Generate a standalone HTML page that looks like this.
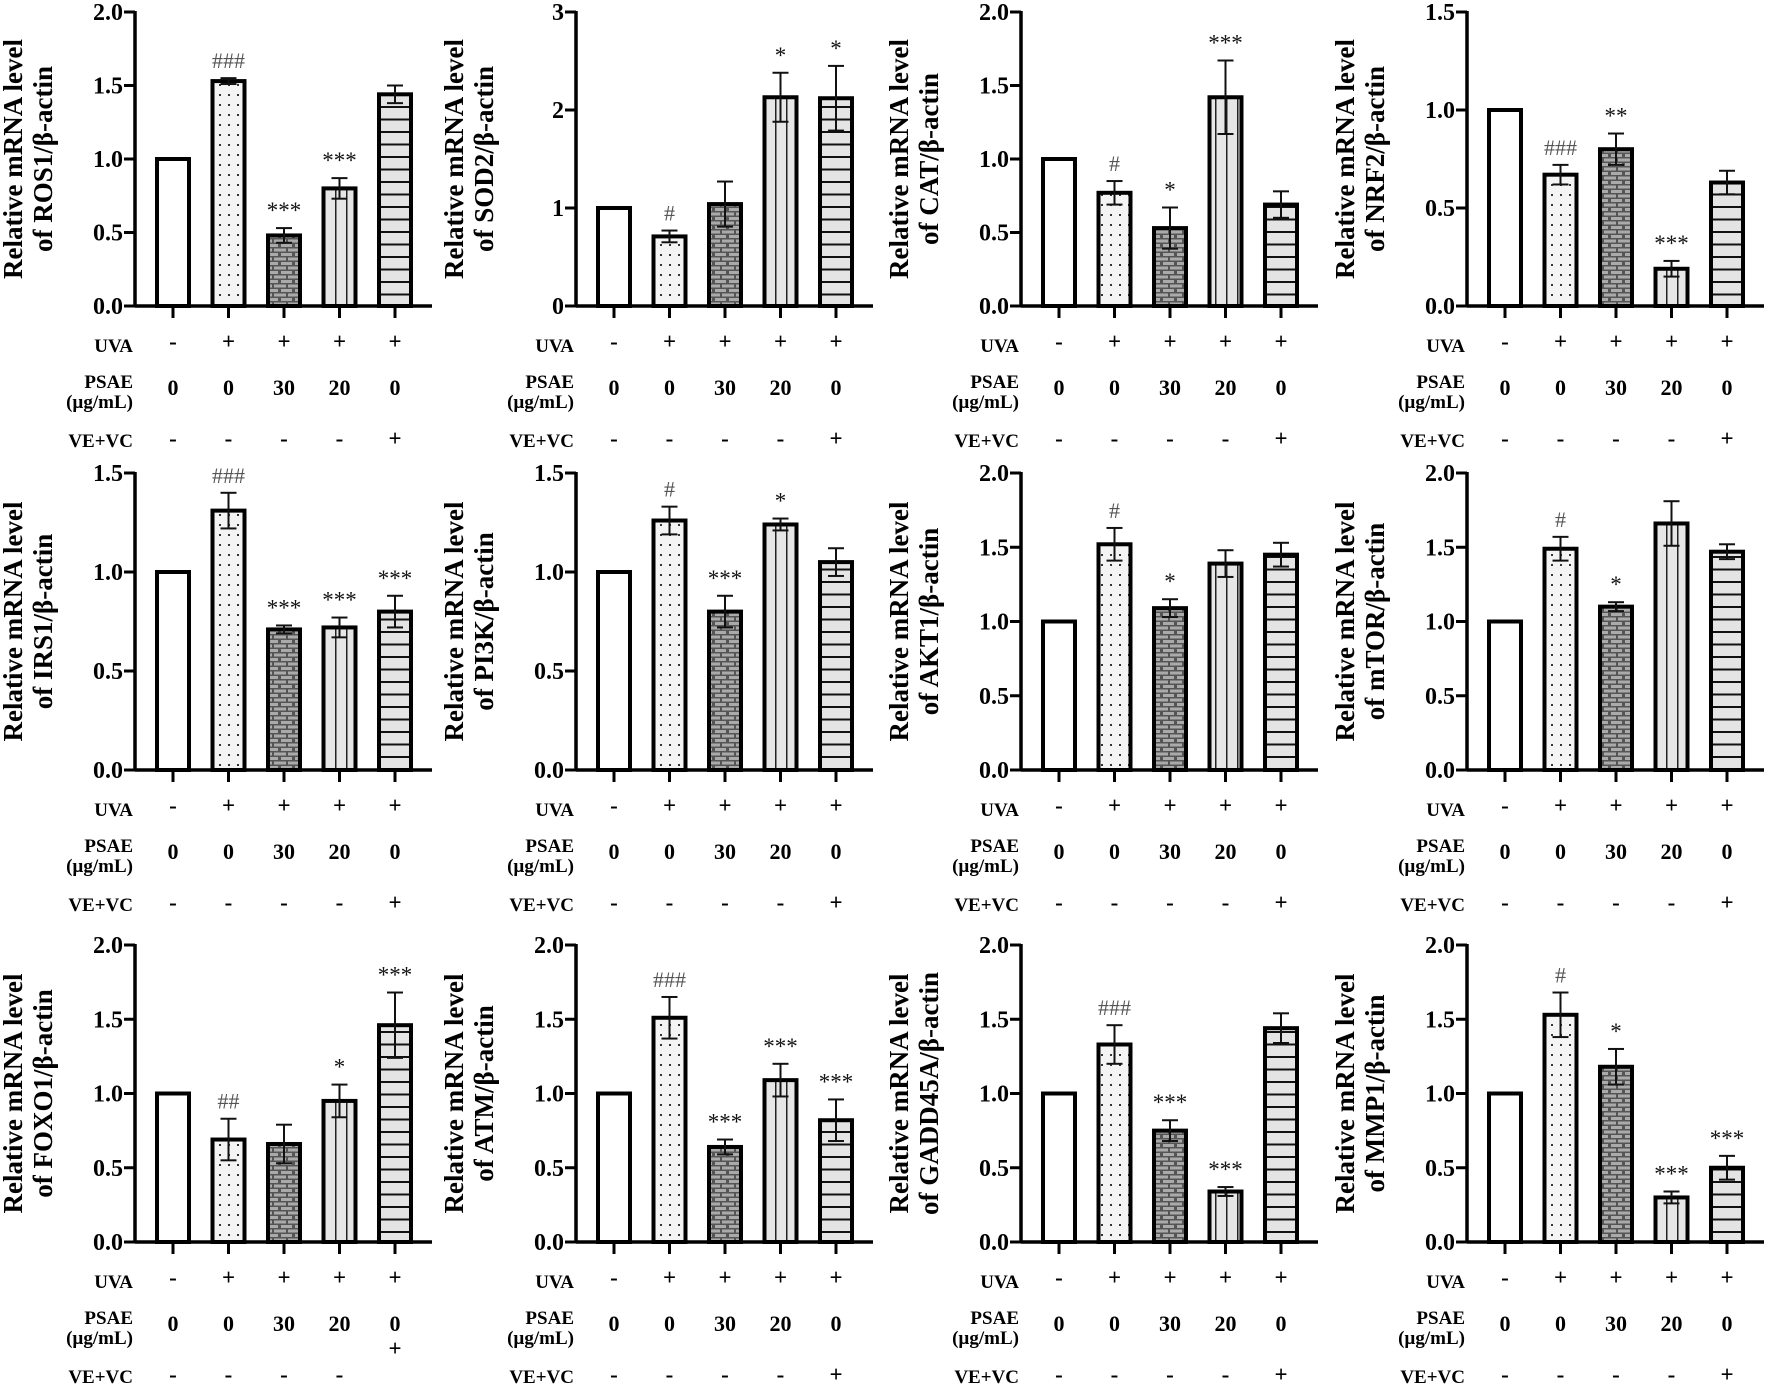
<!DOCTYPE html>
<html><head><meta charset="utf-8">
<style>
html,body{margin:0;padding:0;background:#fff;}
svg{display:block;}
svg text{font-family:"Liberation Serif","DejaVu Serif",serif;}
</style></head>
<body>
<svg id="fig" width="1772" height="1389" viewBox="0 0 1772 1389" xmlns="http://www.w3.org/2000/svg" font-family="Liberation Serif, DejaVu Serif, serif">
<defs>
<pattern id="pDots" width="9" height="10" patternUnits="userSpaceOnUse"><rect width="9" height="10" fill="#f4f4f4"/><rect x="3" y="4" width="2" height="2" fill="#333"/></pattern>
<pattern id="pBrick" width="14" height="9" patternUnits="userSpaceOnUse"><rect width="14" height="9" fill="#555"/><rect x="1" y="1" width="11" height="3" fill="#aaa"/><rect x="8" y="5.5" width="12" height="3" fill="#aaa"/><rect x="-6" y="5.5" width="12" height="3" fill="#aaa"/></pattern>
<pattern id="pVert" width="11" height="10" patternUnits="userSpaceOnUse"><rect width="11" height="10" fill="#e6e6e6"/><rect x="5" width="1.5" height="10" fill="#222"/></pattern>
<pattern id="pHoriz" width="10" height="12.5" patternUnits="userSpaceOnUse"><rect width="10" height="12.5" fill="#e4e4e4"/><rect y="6" width="10" height="2" fill="#111"/></pattern>
</defs>
</svg>
<script>
const genes = ["ROS1","SOD2","CAT","NRF2","IRS1","PI3K","AKT1","mTOR","FOXO1","ATM","GADD45A","MMP1"];
const yMax = [2,3,2,1.5,1.5,1.5,2,2,2,2,2,2];
const tickLabels = [
 ["0.0","0.5","1.0","1.5","2.0"],["0","1","2","3"],["0.0","0.5","1.0","1.5","2.0"],["0.0","0.5","1.0","1.5"],
 ["0.0","0.5","1.0","1.5"],["0.0","0.5","1.0","1.5"],["0.0","0.5","1.0","1.5","2.0"],["0.0","0.5","1.0","1.5","2.0"],
 ["0.0","0.5","1.0","1.5","2.0"],["0.0","0.5","1.0","1.5","2.0"],["0.0","0.5","1.0","1.5","2.0"],["0.0","0.5","1.0","1.5","2.0"]];
const means = [
 [1,1.53,0.48,0.80,1.44],[1,0.71,1.04,2.13,2.12],[1,0.77,0.53,1.42,0.69],[1,0.67,0.80,0.19,0.63],
 [1,1.31,0.71,0.72,0.80],[1,1.26,0.80,1.24,1.05],[1,1.52,1.09,1.39,1.45],[1,1.49,1.10,1.66,1.47],
 [1,0.69,0.66,0.95,1.46],[1,1.51,0.64,1.09,0.82],[1,1.33,0.75,0.34,1.44],[1,1.53,1.18,0.30,0.50]];
const errs = [
 [0,0.02,0.05,0.07,0.06],[0,0.06,0.23,0.25,0.33],[0,0.08,0.14,0.25,0.09],[0,0.05,0.08,0.04,0.06],
 [0,0.09,0.02,0.05,0.08],[0,0.07,0.08,0.03,0.07],[0,0.11,0.06,0.09,0.08],[0,0.08,0.03,0.15,0.05],
 [0,0.14,0.13,0.11,0.22],[0,0.14,0.05,0.11,0.14],[0,0.13,0.07,0.03,0.10],[0,0.15,0.12,0.04,0.08]];
const sigs = [
 ["","###","***","***",""],["","#","","*","*"],["","#","*","***",""],["","###","**","***",""],
 ["","###","***","***","***"],["","#","***","*",""],["","#","*","",""],["","#","*","",""],
 ["","##","","*","***"],["","###","***","***","***"],["","###","***","***",""],["","#","*","***","***"]];
const uvaRow = ["-","+","+","+","+"];
const psaeRow = ["0","0","30","20","0"];
const vevcRow = ["-","-","-","-","+"];

const NS="http://www.w3.org/2000/svg";
const svg=document.getElementById("fig");
const colX=[135,576,1021,1467];
const rowTop=[12,473,945], rowBase=[306,770,1242];
const fills=["#fff","url(#pDots)","url(#pBrick)","url(#pVert)","url(#pHoriz)"];
const FF="Liberation Serif, DejaVu Serif, serif";
function el(tag,attrs,parent,txt){const e=document.createElementNS(NS,tag);for(const k in attrs)e.setAttribute(k,attrs[k]);if(tag==="text")e.setAttribute("font-family",FF);if(txt!==undefined)e.textContent=txt;(parent||svg).appendChild(e);return e;}

genes.forEach((g,i)=>{
  const ax=colX[i%4], top=rowTop[Math.floor(i/4)], base=rowBase[Math.floor(i/4)];
  const grp=el("g",{});
  
  
  const y=v=>base-(v/yMax[i])*(base-top);
  const xc=k=>ax+38+k*55.5;
  const ya=el("line",{x1:ax,y1:top-1,x2:ax,y2:base+1.5,stroke:"#000","stroke-width":3.5},grp);
  
  
  const n=tickLabels[i].length;
  tickLabels[i].forEach((t,k)=>{
    const v=yMax[i]*k/(n-1);
    el("line",{x1:ax-11,y1:y(v),x2:ax,y2:y(v),stroke:"#000","stroke-width":3},grp);
    const tl=el("text",{x:ax-12,y:y(v)+8,"text-anchor":"end","font-size":24,"font-weight":"bold"},grp,t);
    
    
  });
  const xa=el("line",{x1:ax,y1:base,x2:ax+297,y2:base,stroke:"#000","stroke-width":3.5},grp);
  
  
  const mid=(top+base)/2;
  const t1=el("text",{x:0,y:0,"text-anchor":"middle","font-size":27,"font-weight":"bold",transform:`translate(${ax-113},${mid}) rotate(-90)`},grp,"Relative mRNA level");
  
  
  const t2=el("text",{x:0,y:0,"text-anchor":"middle","font-size":27,"font-weight":"bold",transform:`translate(${ax-83},${mid}) rotate(-90)`},grp,"of "+g+"/β-actin");
  
  
  means[i].forEach((m,k)=>{
    const cx=xc(k), w=32;
    const b=el("rect",{x:cx-w/2,y:y(m),width:w,height:base-y(m),fill:fills[k],stroke:"#000","stroke-width":4},grp);
    
    
    const e=errs[i][k];
    if(e>0){
      const hi=y(m+e), lo=y(m-e);
      el("line",{x1:cx,y1:hi,x2:cx,y2:lo,stroke:"#111","stroke-width":2},grp);
      el("line",{x1:cx-8,y1:hi,x2:cx+8,y2:hi,stroke:"#111","stroke-width":2},grp);
      el("line",{x1:cx-8,y1:lo,x2:cx+8,y2:lo,stroke:"#111","stroke-width":2},grp);
    }
    const s=sigs[i][k];
    if(s){
      const isHash=s[0]==="#";
      const st=el("text",{x:cx,y:y(m+e)-10,"text-anchor":"middle","font-size":isHash?22:23,fill:isHash?"#555":"#111"},grp,s);
      
      
    }
    el("line",{x1:cx,y1:base,x2:cx,y2:base+12,stroke:"#000","stroke-width":3},grp);
    const u=el("text",{x:cx,y:base+43,"text-anchor":"middle","font-size":23,"font-weight":"bold"},grp,uvaRow[k]);
    
    
    const p=el("text",{x:cx,y:base+89,"text-anchor":"middle","font-size":22,"font-weight":"bold"},grp,psaeRow[k]);
    
    
    const vy=(g==="FOXO1" && k===4)?base+114:base+140;
    const vv=el("text",{x:cx,y:vy,"text-anchor":"middle","font-size":23,"font-weight":"bold"},grp,vevcRow[k]);
    
    
  });
  const l1=el("text",{x:ax-2,y:base+46,"text-anchor":"end","font-size":19,"font-weight":"bold"},grp,"UVA");
  
  
  const l2=el("text",{x:ax-2,y:base+82,"text-anchor":"end","font-size":19,"font-weight":"bold"},grp,"PSAE");
  
  
  const l3=el("text",{x:ax-2,y:base+102,"text-anchor":"end","font-size":19,"font-weight":"bold"},grp,"(µg/mL)");
  
  
  const l4=el("text",{x:ax-2,y:base+141,"text-anchor":"end","font-size":19,"font-weight":"bold"},grp,"VE+VC");
  
  
});
</script>
</body></html>
